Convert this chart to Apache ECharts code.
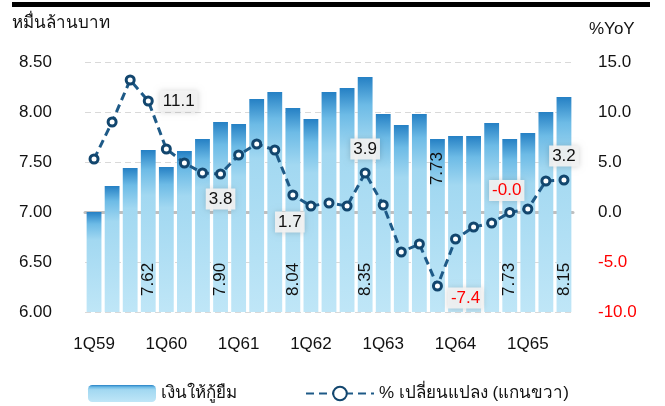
<!DOCTYPE html>
<html>
<head>
<meta charset="utf-8">
<script src="https://cdn.jsdelivr.net/npm/echarts@6/dist/echarts.min.js"></script>
<style>
  html, body { margin: 0; padding: 0; background: #fff; }
  #chart { width: 665px; height: 406px; }
</style>
</head>
<body>
<div id="chart"></div>
<script>
const FONT = '"Liberation Sans", Arial, "Noto Sans", sans-serif';

const quarters = [
  '1Q59', '2Q59', '3Q59', '4Q59',
  '1Q60', '2Q60', '3Q60', '4Q60',
  '1Q61', '2Q61', '3Q61', '4Q61',
  '1Q62', '2Q62', '3Q62', '4Q62',
  '1Q63', '2Q63', '3Q63', '4Q63',
  '1Q64', '2Q64', '3Q64', '4Q64',
  '1Q65', '2Q65', '3Q65',
];

// หมื่นล้านบาท
const loans = [
  7.00, 7.26, 7.44, 7.62,
  7.45, 7.61, 7.73, 7.90,
  7.88, 8.13, 8.20, 8.04,
  7.93, 8.20, 8.24, 8.35,
  7.98, 7.87, 7.98, 7.73,
  7.76, 7.76, 7.89, 7.73,
  7.79, 8.00, 8.15,
];

// %YoY
const yoy = [
  5.3, 9.0, 13.2, 11.1,
  6.3, 4.9, 3.9, 3.8,
  5.7, 6.8, 6.2, 1.7,
  0.6, 0.9, 0.6, 3.9,
  0.7, -4.0, -3.2, -7.4,
  -2.7, -1.5, -1.1, -0.04,
  0.3, 3.1, 3.2,
];

// which points carry a value label
const loanLabelIdx = [3, 7, 11, 15, 19, 23, 26];
const yoyLabelIdx = [3, 7, 11, 15, 19, 23, 26];

const leftTicks = { min: 6, max: 8.5, interval: 0.5 };
const rightTicks = { min: -10, max: 15, interval: 5 };

const chart = echarts.init(document.getElementById('chart'), null, { renderer: 'canvas' });

const barGradient = new echarts.graphic.LinearGradient(0, 0, 0, 1, [
  { offset: 0, color: '#2580c4' },
  { offset: 0.12, color: '#6dbbe6' },
  { offset: 0.28, color: '#a2d8f1' },
  { offset: 1, color: '#bfe6f7' },
]);

const yoyLabelStyle = {
  show: true,
  fontFamily: FONT,
  fontSize: 17,
  color: '#111',
  backgroundColor: 'rgba(242,242,242,0.92)',
  padding: [2, 3],
  shadowBlur: 6,
  shadowColor: 'rgba(0,0,0,0.18)',
  formatter: (p) => p.value.toFixed(1),
};

const yoyLabelPos = {
  3: { position: 'right', distance: 6 },
  7: { position: 'bottom', distance: 9 },
  11: { position: 'bottom', distance: 11, offset: [-3, 0] },
  15: { position: 'top', distance: 8 },
  19: { position: 'right', distance: 5, offset: [0, 12], color: '#ff0000' },
  23: { position: 'top', distance: 6, offset: [-3, 0], color: '#ff0000' },
  26: { position: 'top', distance: 8 },
};

const barData = loans.map((v, i) => {
  if (!loanLabelIdx.includes(i)) return v;
  const top = i === 19;
  return {
    value: v,
    label: {
      show: true,
      position: top ? 'insideTop' : 'insideBottom',
      rotate: 90,
      align: top ? 'right' : 'left',
      verticalAlign: 'middle',
      distance: top ? 13 : 16,
      fontFamily: FONT,
      fontSize: 17,
      color: '#111',
      formatter: (p) => p.value.toFixed(2),
    },
  };
});

const lineData = yoy.map((v, i) => {
  if (!yoyLabelIdx.includes(i)) return v;
  return { value: v, label: Object.assign({}, yoyLabelStyle, yoyLabelPos[i]) };
});

chart.setOption({
  animation: false,
  textStyle: { fontFamily: FONT },
  grid: { left: 85, right: 92, top: 62, bottom: 94 },
  graphic: [
    { type: 'rect', shape: { x: 12, y: 2, width: 638, height: 5 }, style: { fill: '#000' } },
    { type: 'text', left: 12, top: 15, style: { text: 'หมื่นล้านบาท', fontFamily: FONT, fontSize: 17, fill: '#111' } },
    { type: 'text', left: 589, top: 21, style: { text: '%YoY', fontFamily: FONT, fontSize: 17, fill: '#111' } },
  ],
  legend: {
    left: 83,
    top: 380,
    itemWidth: 68,
    itemHeight: 17,
    itemGap: 68,
    textStyle: { fontFamily: FONT, fontSize: 17, color: '#111' },
    data: ['เงินให้กู้ยืม', '% เปลี่ยนแปลง (แกนขวา)'],
  },
  xAxis: {
    type: 'category',
    data: quarters,
    boundaryGap: true,
    axisLine: { lineStyle: { color: '#bfbfbf', width: 3 } },
    axisTick: { interval: 3, length: 6, lineStyle: { color: '#bfbfbf', width: 3 } },
    axisLabel: { interval: 3, margin: 24, fontSize: 17, color: '#111', fontFamily: FONT },
  },
  yAxis: [
    {
      type: 'value',
      min: leftTicks.min,
      max: leftTicks.max,
      interval: leftTicks.interval,
      axisLine: { show: false },
      axisTick: { show: false },
      axisLabel: { margin: 33, fontSize: 17, color: '#111', fontFamily: FONT, formatter: (v) => v.toFixed(2) },
      splitLine: { lineStyle: { color: '#d9d9d9', type: [6, 4], width: 1 } },
    },
    {
      type: 'value',
      min: rightTicks.min,
      max: rightTicks.max,
      interval: rightTicks.interval,
      axisLine: { show: false },
      axisTick: { show: false },
      splitLine: { show: false },
      axisLabel: {
        margin: 25,
        fontSize: 17,
        fontFamily: FONT,
        formatter: (v) => v.toFixed(1),
        color: (v) => (Number(v) < 0 ? '#ff0000' : '#111'),
      },
    },
  ],
  series: [
    {
      name: 'เงินให้กู้ยืม',
      type: 'bar',
      yAxisIndex: 0,
      barCategoryGap: '18%',
      itemStyle: { color: barGradient },
      data: barData,
      z: 2,
    },
    {
      name: '% เปลี่ยนแปลง (แกนขวา)',
      type: 'line',
      yAxisIndex: 1,
      symbol: 'circle',
      symbolSize: 8,
      lineStyle: { color: '#1e5a87', width: 3, type: [8, 5] },
      itemStyle: { color: '#fff', borderColor: '#12466e', borderWidth: 3 },
      data: lineData,
      z: 5,
    },
  ],
});
</script>
</body>
</html>
